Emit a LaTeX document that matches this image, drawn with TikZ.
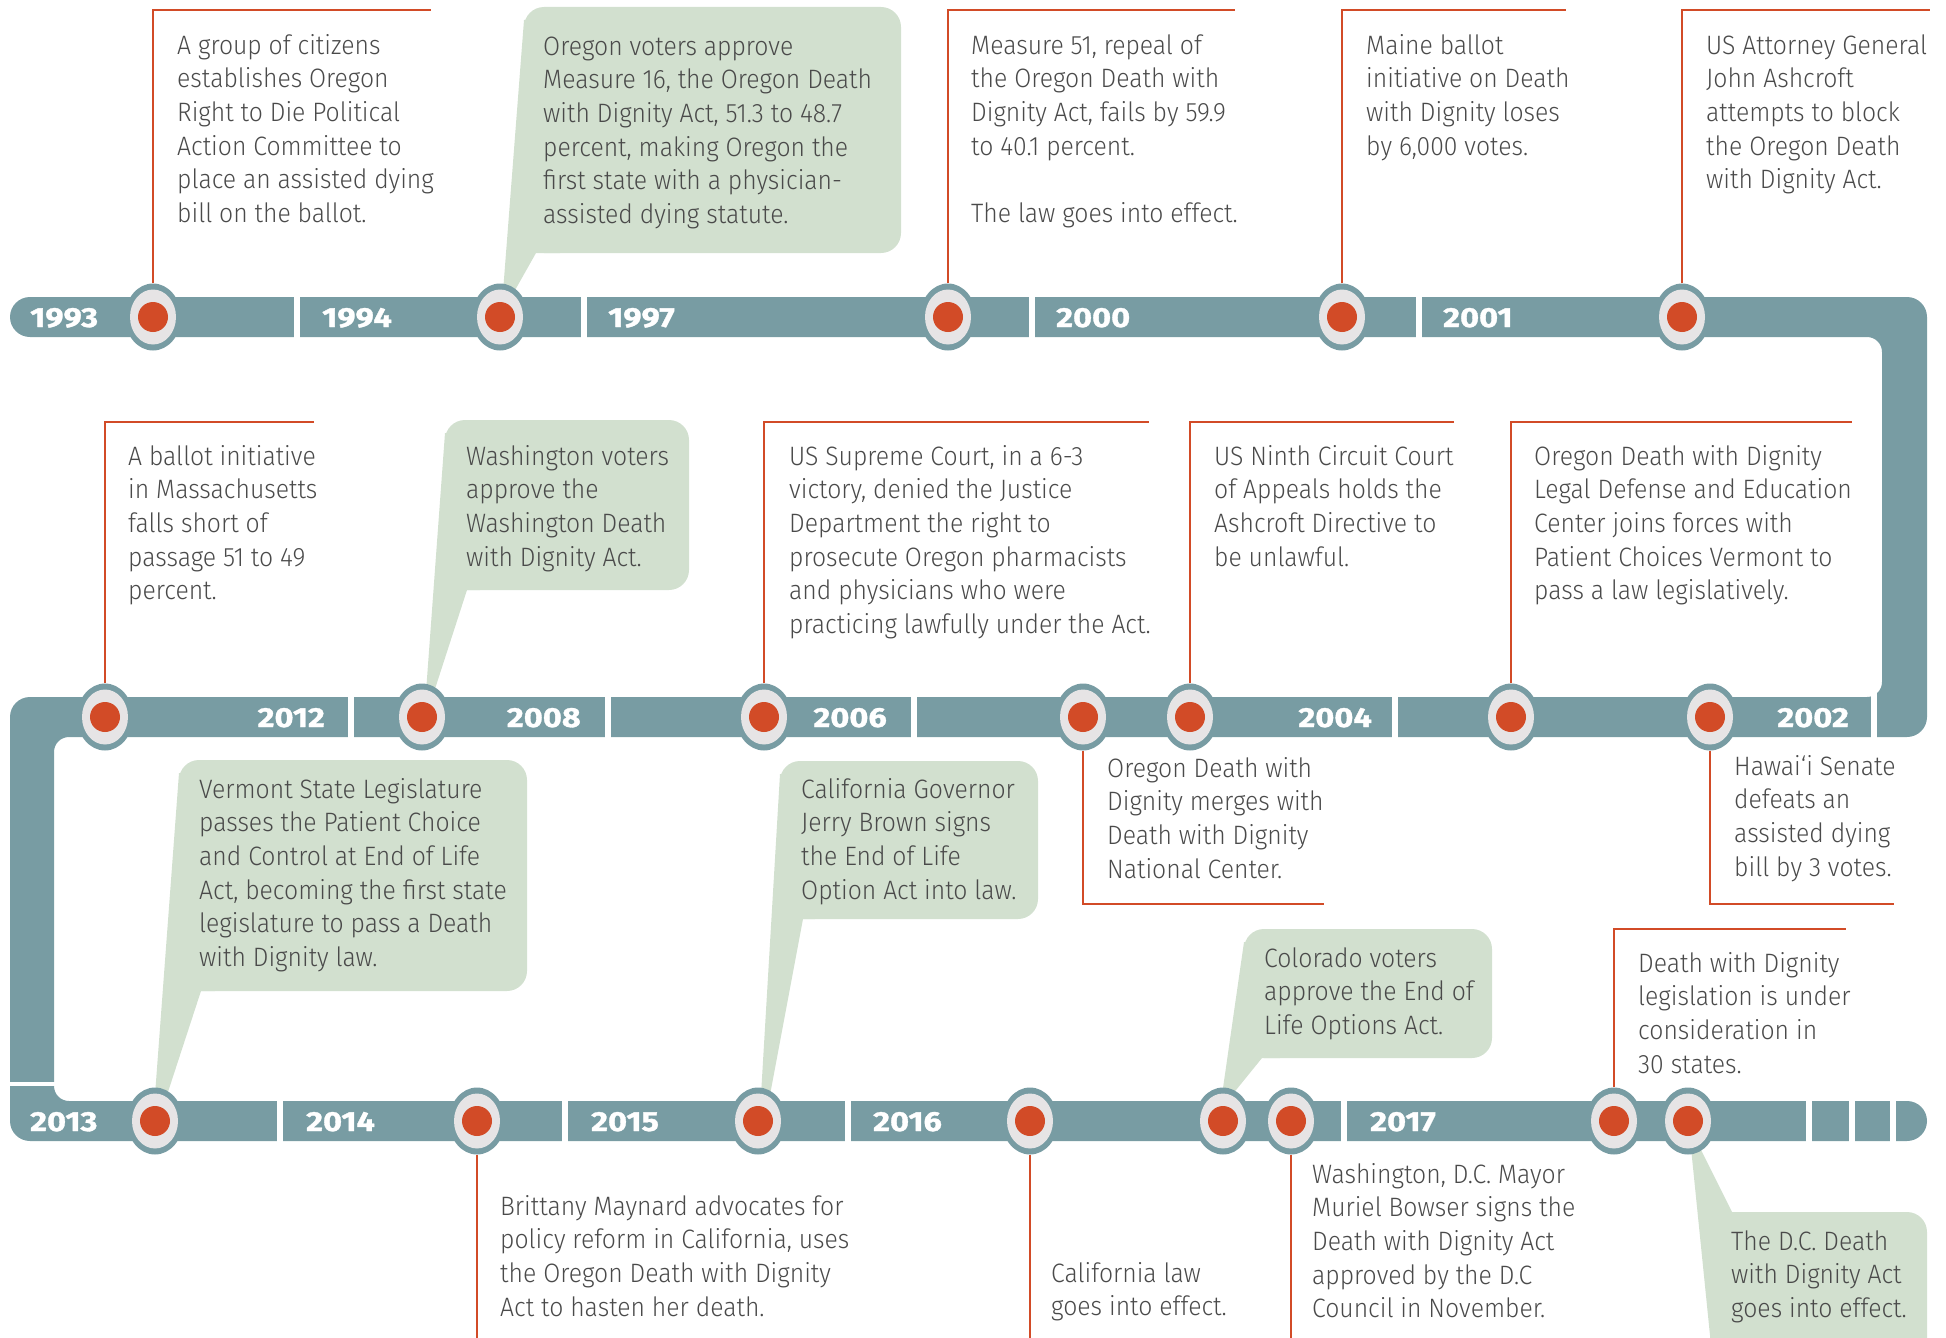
\documentclass[tikz,border=0pt]{standalone}
\usepackage{fontspec}
\setmainfont{Fira Sans}[UprightFont={* Light}, UprightFeatures={FakeStretch=0.93}, BoldFont={* Bold}]
\newfontfamily\yrfont{Fira Sans}[UprightFont={* Bold}, FakeStretch=1.18, FakeBold=1.2]
\usepackage{tikz}
\usetikzlibrary{positioning}
\usetikzlibrary{shapes.geometric}
\definecolor{barc}{HTML}{789CA3}
\definecolor{redc}{HTML}{D24B27}
\definecolor{gryc}{HTML}{E6E4E5}
\definecolor{bubc}{HTML}{D2E0CF}
\definecolor{txtc}{HTML}{4A4A4A}
\tikzstyle{ring}=[ellipse,fill=barc,minimum width=56pt,minimum height=67pt,inner sep=0pt,
  path picture={\fill[gryc] (path picture bounding box.center) ellipse [x radius=23pt,y radius=27.5pt];
                \fill[redc] (path picture bounding box.center) circle [radius=15pt];}]
\tikzstyle{ev}=[anchor=base west,align=left,inner sep=0pt,text=txtc,font=\fontsize{26.6}{33.7}\selectfont]
\tikzstyle{yr}=[anchor=base west,inner sep=0pt,text=white,font=\yrfont\fontsize{27.6}{30}\selectfont]
\tikzstyle{yre}=[yr,anchor=base east]
\tikzstyle{rl}=[draw=redc,line width=2.8pt]
\tikzstyle{bub}=[fill=bubc]

\begin{document}
\begin{tikzpicture}[x=1pt,y=-1pt]
      \useasboundingbox (0,0) rectangle (1946,1338);
      \fill [barc] (30,297) -- (1907,297) arc[start angle=270,end angle=360,radius=20] -- (1927,717)
        arc[start angle=0,end angle=90,radius=20] -- (69,737) arc[start angle=270,end angle=180,radius=15]
        -- (54,1086) arc[start angle=180,end angle=90,radius=15] -- (1907,1101)
        arc[start angle=270,end angle=450,radius=20] -- (30,1141) arc[start angle=90,end angle=180,radius=20]
        -- (10,717) arc[start angle=180,end angle=270,radius=20] -- (1867,697)
        arc[start angle=90,end angle=0,radius=15] -- (1882,352) arc[start angle=0,end angle=-90,radius=15]
        -- (30,337) arc[start angle=90,end angle=270,radius=20] -- cycle;
      \foreach \x in {294,581,1029,1416} \fill [white] (\x,290) rectangle +(6,54);
      \foreach \x in {348,605,911,1392,1871} \fill [white] (\x,690) rectangle +(6,54);
      \foreach \x in {277,562,845,1341,1806,1849,1890} \fill [white] (\x,1094) rectangle +(6,54);
      \fill [white] (4,1082) rectangle (60,1086);

      \fill [bub, rounded corners=20pt] (524,7) rectangle (901,253);
      \fill [bub] (524,20) -- (560,20) -- (560,253) -- (536,253) -- (514,292) -- (503,292) -- cycle;
      \fill [bub, rounded corners=20pt] (445,420) rectangle (689,590);
      \fill [bub] (445,433) -- (480,433) -- (480,590) -- (467,590) -- (434,692) -- (426,692) -- cycle;
      \fill [bub, rounded corners=20pt] (179,760) rectangle (527,991);
      \fill [bub] (179,773) -- (215,773) -- (215,991) -- (201,991) -- (167,1095) -- (155,1095) -- cycle;
      \fill [bub, rounded corners=20pt] (780,761) rectangle (1038,919);
      \fill [bub] (780,774) -- (815,774) -- (815,919) -- (803,919) -- (770,1095) -- (761,1095) -- cycle;
      \fill [bub, rounded corners=20pt] (1244,929) rectangle (1492,1058);
      \fill [bub] (1244,942) -- (1280,942) -- (1280,1058) -- (1262,1058) -- (1232,1095) -- (1222,1095) -- cycle;
      \fill [bub, rounded corners=20pt] (1710,1212) rectangle (1927,1365);
      \fill [bub] (1691,1148) -- (1700,1148) -- (1732,1212) -- (1760,1212) -- (1760,1365) -- (1713,1365) -- cycle;

      \node [ring] (c93) at (153,317) {};
      \node [ring] (c94) at (500,317) {};
      \node [ring] (c97) at (948,317) {};
      \node [ring] (c00) at (1342,317) {};
      \node [ring] (c01) at (1682,317) {};
      \node [ring] (c12) at (105,717) {};
      \node [ring] (c08) at (422,717) {};
      \node [ring] (c06a) at (764,717) {};
      \node [ring] (c06b) at (1083,717) {};
      \node [ring] (c04) at (1190,717) {};
      \node [ring] (c02a) at (1511,717) {};
      \node [ring] (c02b) at (1710,717) {};
      \node [ring] (c13) at (155,1121) {};
      \node [ring] (c14) at (477,1121) {};
      \node [ring] (c15) at (758,1121) {};
      \node [ring] (c16a) at (1030,1121) {};
      \node [ring] (c16b) at (1223,1121) {};
      \node [ring] (c17a) at (1291,1121) {};
      \node [ring] (c17b) at (1614,1121) {};
      \node [ring] (c17c) at (1688,1121) {};

      \coordinate (h93) at (431,10);
      \coordinate (h97) at (1235,10);
      \coordinate (h00) at (1566,10);
      \coordinate (h01) at (1930,10);
      \coordinate (h12) at (314,422);
      \coordinate (h06a) at (1149,422);
      \coordinate (h06b) at (1324,904);
      \coordinate (h04) at (1454,422);
      \coordinate (h02a) at (1852,422);
      \coordinate (h02b) at (1894,904);
      \coordinate (h14) at (477,1345);
      \coordinate (h16a) at (1030,1345);
      \coordinate (h17a) at (1291,1345);
      \coordinate (h17b) at (1846,929);
      \draw [rl] (c93.north) |- (h93);
      \draw [rl] (c97.north) |- (h97);
      \draw [rl] (c00.north) |- (h00);
      \draw [rl] (c01.north) |- (h01);
      \draw [rl] (c12.north) |- (h12);
      \draw [rl] (c06a.north) |- (h06a);
      \draw [rl] (c06b.south) |- (h06b);
      \draw [rl] (c04.north) |- (h04);
      \draw [rl] (c02a.north) |- (h02a);
      \draw [rl] (c02b.south) |- (h02b);
      \draw [rl] (c14.south) -- (h14);
      \draw [rl] (c16a.south) -- (h16a);
      \draw [rl] (c17a.south) -- (h17a);
      \draw [rl] (c17b.north) |- (h17b);

      \node [yr] (y93) at (30,327) {1993};
      \node [yr] (y94) at (322,327) {1994};
      \node [yr] (y97) at (608,327) {1997};
      \node [yr] (y00) at (1056,327) {2000};
      \node [yr] (y01) at (1443,327) {2001};
      \node [yre] (y12) at (325,727) {2012};
      \node [yre] (y08) at (581,727) {2008};
      \node [yre] (y06) at (887,727) {2006};
      \node [yre] (y04) at (1372,727) {2004};
      \node [yre] (y02) at (1849,727) {2002};
      \node [yr] (y13) at (30,1131) {2013};
      \node [yr] (y14) at (306,1131) {2014};
      \node [yr] (y15) at (591,1131) {2015};
      \node [yr] (y16) at (873,1131) {2016};
      \node [yr] (y17) at (1370,1131) {2017};

      \node [ev] (t93) at (177,222.5) {A group of citizens\\establishes Oregon\\Right to Die Political\\Action Committee to\\place an assisted dying\\bill on the ballot.};
      \node [ev] (t94) at (543,223.5) {Oregon voters approve\\Measure 16, the Oregon Death\\with Dignity Act, 51.3 to 48.7\\percent, making Oregon the\\first state with a physician-\\assisted dying statute.};
      \node [ev] (t97) at (971,222.5) {Measure 51, repeal of\\the Oregon Death with\\Dignity Act, fails by 59.9\\to 40.1 percent.\\[33.7pt]The law goes into effect.};
      \node [ev] (t00) at (1366,155.1) {Maine ballot\\initiative on Death\\with Dignity loses\\by 6,000 votes.};
      \node [ev] (t01) at (1706,188.8) {US Attorney General\\John Ashcroft\\attempts to block\\the Oregon Death\\with Dignity Act.};
      \node [ev] (t12) at (128,599.8) {A ballot initiative\\in Massachusetts\\falls short of\\passage 51 to 49\\percent.};
      \node [ev] (t08) at (466,566.1) {Washington voters\\approve the\\Washington Death\\with Dignity Act.};
      \node [ev] (t06a) at (789,633.5) {US Supreme Court, in a 6-3\\victory, denied the Justice\\Department the right to\\prosecute Oregon pharmacists\\and physicians who were\\practicing lawfully under the Act.};
      \node [ev] (t06b) at (1107,878.1) {Oregon Death with\\Dignity merges with\\Death with Dignity\\National Center.};
      \node [ev] (t04) at (1214,566.1) {US Ninth Circuit Court\\of Appeals holds the\\Ashcroft Directive to\\be unlawful.};
      \node [ev] (t02a) at (1534,599.8) {Oregon Death with Dignity\\Legal Defense and Education\\Center joins forces with\\Patient Choices Vermont to\\pass a law legislatively.};
      \node [ev] (t02b) at (1734,876.1) {Hawai‘i Senate\\defeats an\\assisted dying\\bill by 3 votes.};
      \node [ev] (t13) at (199,966.5) {Vermont State Legislature\\passes the Patient Choice\\and Control at End of Life\\Act, becoming the first state\\legislature to pass a Death\\with Dignity law.};
      \node [ev] (t14) at (500,1316.1) {Brittany Maynard advocates for\\policy reform in California, uses\\the Oregon Death with Dignity\\Act to hasten her death.};
      \node [ev] (t15) at (801,899.1) {California Governor\\Jerry Brown signs\\the End of Life\\Option Act into law.};
      \node [ev] (t16a) at (1051,1315.7) {California law\\goes into effect.};
      \node [ev] (t16b) at (1264,1034.4) {Colorado voters\\approve the End of\\Life Options Act.};
      \node [ev] (t17a) at (1312,1317.8) {Washington, D.C. Mayor\\Muriel Bowser signs the\\Death with Dignity Act\\approved by the D.C\\Council in November.};
      \node [ev] (t17b) at (1638,1073.1) {Death with Dignity\\legislation is under\\consideration in\\30 states.};
      \node [ev] (t17c) at (1731,1317.4) {The D.C. Death\\with Dignity Act\\goes into effect.};
    \end{tikzpicture}
\end{document}
